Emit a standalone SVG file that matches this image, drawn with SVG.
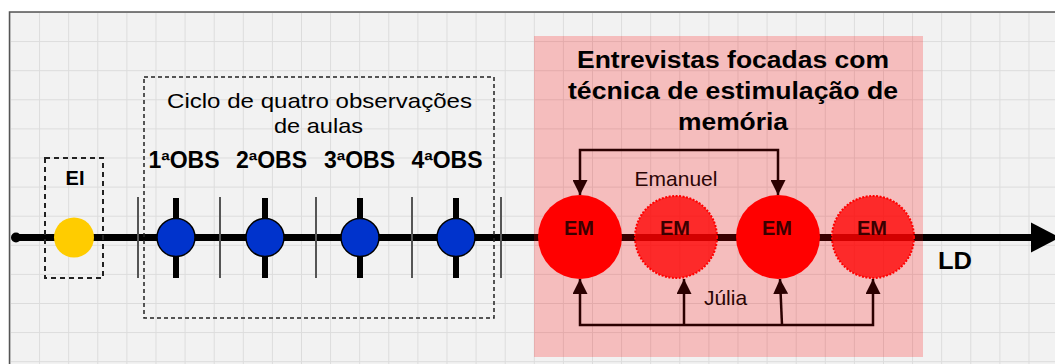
<svg xmlns="http://www.w3.org/2000/svg" width="1055" height="364" viewBox="0 0 1055 364">
<defs>
  <pattern id="grid" x="10" y="12" width="29.1" height="29.1" patternUnits="userSpaceOnUse">
    <path d="M0 0.5 H29.1 M0.5 0 V29.1" stroke="#dcdcdc" stroke-width="1" fill="none"/>
  </pattern>
  <marker id="ah" viewBox="0 0 10 10" refX="10" refY="5" markerWidth="15" markerHeight="15" markerUnits="userSpaceOnUse" orient="auto-start-reverse">
    <path d="M0 0 L10 5 L0 10 z" fill="#2b0000"/>
  </marker>
</defs>
<style>
  text { font-family: "Liberation Sans", Arial, sans-serif; text-anchor: middle; }
  .b { font-weight: bold; }
  .dash1 { fill: none; stroke: #222; stroke-width: 2; stroke-dasharray: 5 4; }
  .dash2 { fill: none; stroke: #222; stroke-width: 1.5; stroke-dasharray: 4 3; }
  .sep { stroke: #555; stroke-width: 2; }
  .tick { stroke: #000; stroke-width: 6; }
  .obs { fill: #0033cc; stroke: #000; stroke-width: 1.5; }
  .emsolid { fill: #ff0000; }
  .emdash { fill: #ff0000; fill-opacity: 0.78; stroke: #ff0000; stroke-width: 2; stroke-dasharray: 2 1.5; }
  .emtxt { font-size: 20px; fill: #3a0000; }
  .conn { fill: none; stroke: #2b0000; stroke-width: 2.5; }
  .lbl { font-size: 21px; fill: #2b0505; }
</style>

<!-- background -->
<rect x="0" y="0" width="1055" height="364" fill="#ffffff"/>
<rect x="9" y="12" width="1046" height="352" fill="#f2f2f2"/>
<rect x="9" y="12" width="1046" height="352" fill="url(#grid)"/>
<path d="M9.5 364 V12 H1055" fill="none" stroke="#555" stroke-width="1.5"/>

<!-- timeline axis -->
<g id="axis">
  <line x1="16" y1="237.5" x2="1032" y2="237.5" stroke="#000" stroke-width="7"/>
  <circle cx="16" cy="237.5" r="5" fill="#000"/>
  <polygon points="1031,222.5 1060,237.5 1031,252.5" fill="#000"/>
</g>

<!-- EI -->
<g id="ei">
  <rect class="dash1" x="45" y="158" width="58" height="120"/>
  <text class="b" x="75" y="185" font-size="20">EI</text>
  <circle cx="74" cy="237.5" r="20" fill="#ffcc00"/>
</g>

<!-- cycle of observations -->
<g id="cycle">
  <rect class="dash2" x="144" y="77" width="350" height="241"/>
  <text x="319.5" y="108" font-size="21" textLength="305" lengthAdjust="spacingAndGlyphs">Ciclo de quatro observações</text>
  <text x="318.5" y="133" font-size="21" textLength="89" lengthAdjust="spacingAndGlyphs">de aulas</text>
</g>

<g id="separators">
  <line class="sep" x1="138" y1="197" x2="138" y2="278"/>
  <line class="sep" x1="220" y1="197" x2="220" y2="278"/>
  <line class="sep" x1="316" y1="197" x2="316" y2="278"/>
  <line class="sep" x1="412" y1="197" x2="412" y2="278"/>
  <line class="sep" x1="501" y1="197" x2="501" y2="278"/>
</g>

<g id="obs1">
  <line class="tick" x1="176" y1="198" x2="176" y2="278"/>
  <circle class="obs" cx="176" cy="237.5" r="19"/>
  <text class="b" x="184" y="167.5" font-size="23">1ªOBS</text>
</g>
<g id="obs2">
  <line class="tick" x1="265" y1="198" x2="265" y2="278"/>
  <circle class="obs" cx="265" cy="237.5" r="19"/>
  <text class="b" x="271.5" y="167.5" font-size="23">2ªOBS</text>
</g>
<g id="obs3">
  <line class="tick" x1="360" y1="198" x2="360" y2="278"/>
  <circle class="obs" cx="360" cy="237.5" r="19"/>
  <text class="b" x="359.5" y="167.5" font-size="23">3ªOBS</text>
</g>
<g id="obs4">
  <line class="tick" x1="456" y1="198" x2="456" y2="278"/>
  <circle class="obs" cx="456" cy="237.5" r="19"/>
  <text class="b" x="447" y="167.5" font-size="23">4ªOBS</text>
</g>

<!-- interviews area -->
<g id="interviews">
  <rect x="534" y="36" width="389" height="321" fill="#ff0000" fill-opacity="0.22"/>
  <text class="b" x="733" y="68" font-size="23" textLength="312" lengthAdjust="spacingAndGlyphs">Entrevistas focadas com</text>
  <text class="b" x="733" y="98.5" font-size="23" textLength="330" lengthAdjust="spacingAndGlyphs">técnica de estimulação de</text>
  <text class="b" x="733" y="130" font-size="23" textLength="110" lengthAdjust="spacingAndGlyphs">memória</text>
</g>

<g id="em1">
  <circle class="emsolid" cx="580" cy="237" r="42"/>
  <text class="b emtxt" x="579" y="235">EM</text>
</g>
<g id="em2">
  <circle class="emdash" cx="676" cy="237" r="41"/>
  <text class="b emtxt" x="675" y="235">EM</text>
</g>
<g id="em3">
  <circle class="emsolid" cx="778" cy="237" r="42"/>
  <text class="b emtxt" x="777" y="235">EM</text>
</g>
<g id="em4">
  <circle class="emdash" cx="873" cy="237" r="41"/>
  <text class="b emtxt" x="872" y="235">EM</text>
</g>

<!-- connectors -->
<g id="connectors">
  <path class="conn" d="M580 195 V150 H778 V195" marker-start="url(#ah)" marker-end="url(#ah)"/>
  <path class="conn" d="M580 279 V325 H873 V279" marker-start="url(#ah)" marker-end="url(#ah)"/>
  <path class="conn" d="M684 325 V279" marker-end="url(#ah)"/>
  <path class="conn" d="M782 325 L780 279" marker-end="url(#ah)"/>
</g>

<g id="labels">
  <text class="lbl" x="676" y="186">Emanuel</text>
  <text class="lbl" x="725.5" y="305">Júlia</text>
  <text class="b" x="955" y="269" font-size="24" textLength="34" lengthAdjust="spacingAndGlyphs">LD</text>
</g>
</svg>
